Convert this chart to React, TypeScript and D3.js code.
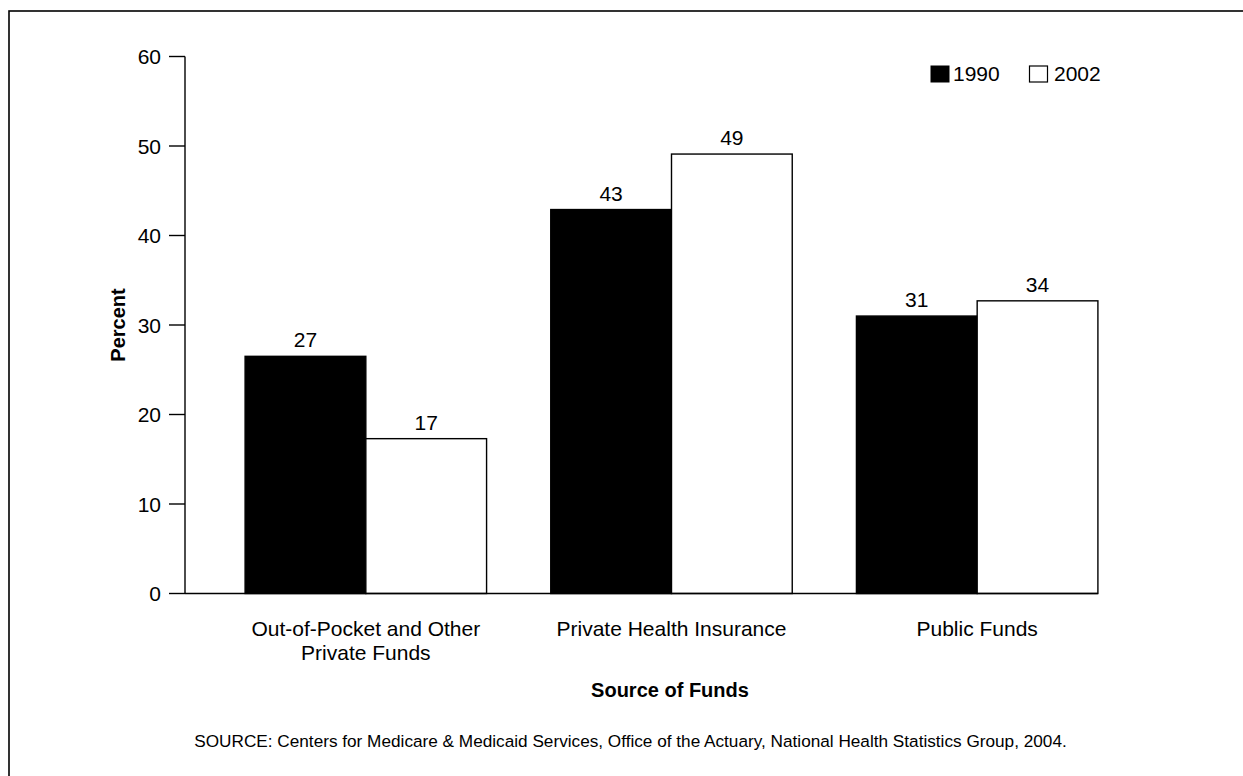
import * as d3 from "d3";

const categories = [
  ["Out-of-Pocket and Other", "Private Funds"],
  ["Private Health Insurance"],
  ["Public Funds"],
];
const years = ["1990", "2002"];
const values1990 = [26.5, 42.9, 31.0];
const values2002 = [17.3, 49.1, 32.7];
const labels1990 = ["27", "43", "31"];
const labels2002 = ["17", "49", "34"];
const yTicks = [0, 10, 20, 30, 40, 50, 60];

const WIDTH = 1243;
const HEIGHT = 776;
const FONT = "'Liberation Sans', Arial, Helvetica, sans-serif";
const AXIS_X = 185;
const FS = 21;

export default function App() {
  const yScale = d3.scaleLinear().domain([0, 60]).range([593.5, 56.5]);

  const xScale = d3
    .scaleBand()
    .domain(categories.map((c) => c.join(" ")))
    .range([213, 1130])
    .paddingInner(0.21)
    .paddingOuter(0.105);

  const subScale = d3
    .scaleBand()
    .domain(years)
    .range([0, xScale.bandwidth()]);

  const series = [
    { year: years[0], values: values1990, labels: labels1990, fill: "#000" },
    { year: years[1], values: values2002, labels: labels2002, fill: "#fff" },
  ];

  const lastX = xScale(categories[2].join(" "))! + xScale.bandwidth();

  return (
    <svg
      width={WIDTH}
      height={HEIGHT}
      style={{ position: "absolute", left: 0, top: 0, display: "block" }}
      fontFamily={FONT}
    >
      <rect x={0} y={0} width={WIDTH} height={HEIGHT} fill="#fff" />
      {/* frame */}
      <rect x={9} y={11} width={1260} height={800} fill="none" stroke="#000" strokeWidth={1.6} />

      {/* bars */}
      {series.map((s) => (
        <g key={s.year}>
          {categories.map((c, i) => {
            const x = xScale(c.join(" "))! + subScale(s.year)!;
            const y = yScale(s.values[i]);
            return (
              <g key={i}>
                <rect
                  x={x}
                  y={y}
                  width={subScale.bandwidth()}
                  height={yScale(0) - y}
                  fill={s.fill}
                  stroke="#000"
                  strokeWidth={1.4}
                />
                <text
                  x={x + subScale.bandwidth() / 2}
                  y={y - 9}
                  textAnchor="middle"
                  fontSize={FS}
                  fill="#000"
                >
                  {s.labels[i]}
                </text>
              </g>
            );
          })}
        </g>
      ))}

      {/* y axis */}
      <line x1={AXIS_X} x2={AXIS_X} y1={yScale(60)} y2={yScale(0)} stroke="#000" strokeWidth={1.4} />
      {yTicks.map((t) => (
        <g key={t} transform={`translate(0,${yScale(t)})`}>
          <line x1={AXIS_X - 16} x2={AXIS_X} stroke="#000" strokeWidth={1.4} />
          <text x={161} dy="0.36em" textAnchor="end" fontSize={FS}>
            {t}
          </text>
        </g>
      ))}
      {/* x baseline */}
      <line x1={AXIS_X} x2={lastX} y1={yScale(0)} y2={yScale(0)} stroke="#000" strokeWidth={1.4} />

      {/* category labels */}
      {categories.map((c) => (
        <text
          key={c.join(" ")}
          x={xScale(c.join(" "))! + xScale.bandwidth() / 2}
          y={636}
          textAnchor="middle"
          fontSize={FS}
        >
          {c.map((line, j) => (
            <tspan key={j} x={xScale(c.join(" "))! + xScale.bandwidth() / 2} dy={j === 0 ? 0 : 23.5}>
              {line}
            </tspan>
          ))}
        </text>
      ))}

      {/* axis titles */}
      <text x={670} y={697} textAnchor="middle" fontSize={20} fontWeight="bold">
        Source of Funds
      </text>
      <text
        transform={`translate(125,${325}) rotate(-90)`}
        textAnchor="middle"
        fontSize={20}
        fontWeight="bold"
      >
        Percent
      </text>

      {/* legend */}
      <rect x={931} y={66} width={18} height={16} fill="#000" stroke="#000" strokeWidth={1} />
      <text x={953} y={81} fontSize={FS}>
        {years[0]}
      </text>
      <rect x={1029.5} y={66} width={18} height={16} fill="#fff" stroke="#000" strokeWidth={1.2} />
      <text x={1054} y={81} fontSize={FS}>
        {years[1]}
      </text>

      {/* source */}
      <text x={630.5} y={747} textAnchor="middle" fontSize={17.2}>
        SOURCE: Centers for Medicare &amp; Medicaid Services, Office of the Actuary, National Health
        Statistics Group, 2004.
      </text>
    </svg>
  );
}
